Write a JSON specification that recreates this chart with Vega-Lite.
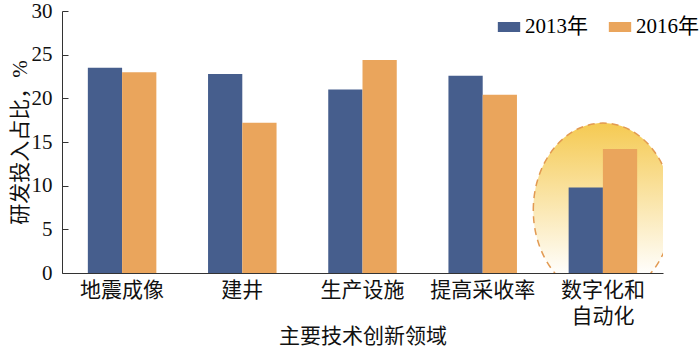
{
  "$schema": "https://vega.github.io/schema/vega-lite/v6.json",
  "autosize": {"type": "none"},
  "padding": {"left": 62, "top": 11, "right": 37, "bottom": 81},
  "width": 601,
  "height": 262,
  "background": "white",
  "config": {
    "view": {"stroke": null},
    "font": "Liberation Serif, Noto Sans CJK SC",
    "axis": {"grid": false, "domainColor": "#333333", "tickColor": "#333333", "labelColor": "#111111", "titleColor": "#111111", "labelFont": "Liberation Serif, Noto Sans CJK SC", "titleFont": "Liberation Serif, Noto Sans CJK SC", "titleFontWeight": "normal"},
    "legend": {"labelFont": "Liberation Serif, Noto Sans CJK SC"}
  },
  "datasets": {
    "bars": [
      {"field": "地震成像", "year": "2013年", "value": 23.5},
      {"field": "地震成像", "year": "2016年", "value": 23.0},
      {"field": "建井", "year": "2013年", "value": 22.8},
      {"field": "建井", "year": "2016年", "value": 17.2},
      {"field": "生产设施", "year": "2013年", "value": 21.0},
      {"field": "生产设施", "year": "2016年", "value": 24.4},
      {"field": "提高采收率", "year": "2013年", "value": 22.6},
      {"field": "提高采收率", "year": "2016年", "value": 20.4},
      {"field": "数字化和自动化", "year": "2013年", "value": 9.8},
      {"field": "数字化和自动化", "year": "2016年", "value": 14.2}
    ],
    "ellipse": [
      {"field": "数字化和自动化", "value": 7.2}
    ]
  },
  "layer": [
    {
      "data": {"name": "ellipse"},
      "mark": {
        "type": "point",
        "filled": true,
        "clip": true,
        "shape": "M -0.8 0 A 0.8 1 0 1 1 0.8 0 A 0.8 1 0 1 1 -0.8 0 Z",
        "size": 30276,
        "opacity": 1,
        "fill": {"gradient": "linear", "x1": 0, "y1": 0, "x2": 0, "y2": 1, "stops": [{"offset": 0, "color": "#f5ca52"}, {"offset": 0.88, "color": "#ffffff"}, {"offset": 1, "color": "#ffffff"}]},
        "stroke": "#e29a52",
        "strokeWidth": 1.5,
        "strokeDash": [7, 5]
      },
      "encoding": {
        "x": {"field": "field", "type": "nominal", "sort": ["地震成像", "建井", "生产设施", "提高采收率", "数字化和自动化"]},
        "y": {"field": "value", "type": "quantitative"}
      }
    },
    {
      "data": {"name": "bars"},
      "mark": {"type": "bar", "stroke": null},
      "encoding": {
        "x": {
          "field": "field", "type": "nominal",
          "sort": ["地震成像", "建井", "生产设施", "提高采收率", "数字化和自动化"],
          "scale": {"domain": ["地震成像", "建井", "生产设施", "提高采收率", "数字化和自动化"], "paddingInner": 0.43, "paddingOuter": 0.215},
          "axis": {
            "title": "主要技术创新领域",
            "labelAngle": 0,
            "labelAlign": "center",
            "ticks": false,
            "labelPadding": 17,
            "labelFontSize": 21,
            "titleFontSize": 21,
            "titleY": 52,
            "labelLineHeight": 26,
            "labelExpr": "datum.label == '数字化和自动化' ? ['数字化和', '自动化'] : datum.label"
          }
        },
        "xOffset": {"field": "year", "type": "nominal", "scale": {"paddingInner": 0}},
        "y": {
          "field": "value", "type": "quantitative",
          "scale": {"domain": [0, 30], "nice": false},
          "axis": {
            "title": "研发投入占比，%",
            "values": [0, 5, 10, 15, 20, 25, 30],
            "tickSize": -6,
            "labelPadding": 16,
            "labelFontSize": 21,
            "titleFontSize": 21,
            "titlePadding": 1
          }
        },
        "color": {
          "field": "year", "type": "nominal",
          "scale": {"domain": ["2013年", "2016年"], "range": ["#465e8d", "#eaa55c"]},
          "legend": {
            "title": null,
            "orient": "none",
            "legendX": 435,
            "legendY": 4,
            "direction": "horizontal",
            "labelFontSize": 21,
            "symbolType": "M -1 -0.45 L 1 -0.45 L 1 0.45 L -1 0.45 Z",
            "symbolSize": 500,
            "columnPadding": 20
          }
        }
      }
    }
  ]
}
